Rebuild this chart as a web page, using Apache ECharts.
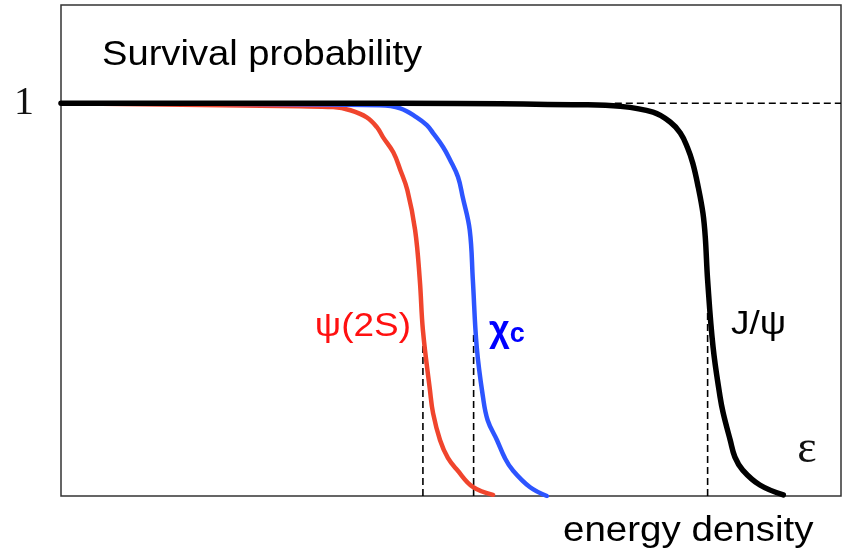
<!DOCTYPE html>
<html>
<head>
<meta charset="utf-8">
<script src="https://cdn.jsdelivr.net/npm/echarts@6/dist/echarts.min.js"></script>
<style>
  html, body { margin: 0; padding: 0; background: #fff; }
  #chart { width: 845px; height: 556px; }
</style>
</head>
<body>
<div id="chart"></div>
<script>
// energy density in arbitrary units (0..100), survival probability 0..1
const psi2sX = [0, 30.6, 34.9, 37.1, 39.2, 40.5, 41.3, 42.6, 43.5, 44.4, 45.4, 46.0, 46.4, 47.3, 47.7, 48.6, 49.6, 50.8, 52.8, 55.4];
const psi2sY = [1, 0.992, 0.99, 0.982, 0.964, 0.939, 0.913, 0.875, 0.830, 0.779, 0.677, 0.550, 0.422, 0.270, 0.211, 0.142, 0.097, 0.066, 0.023, 0.003];

const chicX = [0, 40.9, 43.5, 45.6, 46.9, 47.7, 49.0, 49.9, 50.9, 51.5, 52.4, 52.8, 53.3, 54.1, 54.7, 55.9, 56.9, 57.9, 60.1, 62.3];
const chicY = [1, 0.995, 0.987, 0.964, 0.944, 0.924, 0.888, 0.855, 0.812, 0.761, 0.677, 0.550, 0.379, 0.252, 0.193, 0.142, 0.097, 0.066, 0.023, 0];

const jpsiX = [0, 43.5, 66.5, 71.7, 75.9, 78.1, 79.4, 80.3, 81.0, 81.7, 82.3, 82.6, 82.9, 83.6, 84.5, 84.9, 85.8, 86.4, 87.4, 89.6, 92.6];
const jpsiY = [1, 1, 0.996, 0.992, 0.977, 0.952, 0.924, 0.888, 0.847, 0.786, 0.720, 0.659, 0.550, 0.379, 0.252, 0.211, 0.142, 0.099, 0.066, 0.028, 0.003];

// dissociation thresholds: [energy density, height of dashed marker]
const thresholds = [[46.4, 0.43], [52.9, 0.42], [82.9, 0.47]];
const unityLine = [71, 100];

const pairs = (xs, ys) => xs.map((x, i) => [x, ys[i]]);

const dashed = { color: '#000', width: 1.6, type: [7, 4] };

const curve = (name, xs, ys, color, width) => ({
    name,
    type: 'line',
    showSymbol: false,
    smooth: 0.4,
    lineStyle: { color, width, cap: 'round', join: 'round' },
    data: pairs(xs, ys),
    z: 3,
});

const chart = echarts.init(document.getElementById('chart'), null, { renderer: 'canvas' });

chart.setOption({
    animation: false,
    backgroundColor: '#fff',
    textStyle: { fontFamily: 'Liberation Sans' },
    grid: { left: 61, right: 4, top: 5, bottom: 60, show: true, borderColor: '#333', borderWidth: 1.5 },
    xAxis: {
        type: 'value',
        min: 0,
        max: 100,
        axisLine: { show: false },
        axisTick: { show: false },
        axisLabel: { show: false },
        splitLine: { show: false },
    },
    yAxis: {
        type: 'value',
        min: 0,
        max: 1.25,
        interval: 0.25,
        axisLine: { show: false },
        axisTick: { show: false },
        splitLine: { show: false },
        axisLabel: {
            formatter: (v) => (v === 1 ? '1' : ''),
            fontFamily: 'Liberation Serif',
            fontSize: 40,
            color: '#111',
            margin: 27,
            padding: [0, 0, 6, 0],
        },
    },
    series: [
        ...thresholds.map(([x, h]) => ({
            type: 'line',
            showSymbol: false,
            lineStyle: dashed,
            data: [[x, 0], [x, h]],
            z: 1,
        })),
        {
            type: 'line',
            showSymbol: false,
            lineStyle: dashed,
            data: [[unityLine[0], 1], [unityLine[1], 1]],
            z: 1,
        },
        curve('psi2S', psi2sX, psi2sY, '#f0452d', 4.5),
        curve('chic', chicX, chicY, '#2d55ff', 4.5),
        curve('Jpsi', jpsiX, jpsiY, '#000', 5.5),
    ],
    graphic: [
        {
            type: 'text', x: 102, y: 55, scaleX: 1.09,
            style: { text: 'Survival probability', fontFamily: 'Liberation Sans', fontSize: 35, fill: '#000', verticalAlign: 'middle' },
        },
        {
            type: 'text', x: 563, y: 531, scaleX: 1.1,
            style: { text: 'energy density', fontFamily: 'Liberation Sans', fontSize: 35, fill: '#000', verticalAlign: 'middle' },
        },
        {
            type: 'text', x: 411, y: 327, scaleX: 1.12,
            style: { text: 'ψ(2S)', fontFamily: 'Liberation Sans', fontSize: 33, fill: '#ff1010', align: 'right', verticalAlign: 'middle' },
        },
        {
            type: 'text', x: 489, y: 331,
            style: {
                text: '{a|χ}{b|c}',
                rich: {
                    a: { fontFamily: 'Liberation Sans', fontSize: 36, fontWeight: 'bold', fill: '#0000ff' },
                    b: { fontFamily: 'Liberation Sans', fontSize: 27, fontWeight: 'bold', fill: '#0000ff', padding: [8, 0, 0, 0] },
                },
                verticalAlign: 'middle',
            },
        },
        {
            type: 'text', x: 731, y: 325, scaleX: 1.12,
            style: { text: 'J/ψ', fontFamily: 'Liberation Sans', fontSize: 33, fill: '#000', verticalAlign: 'middle' },
        },
        {
            type: 'text', x: 807, y: 450,
            style: { text: 'ε', fontFamily: 'Liberation Serif', fontSize: 46, fill: '#111', align: 'center', verticalAlign: 'middle' },
        },
    ],
});
</script>
</body>
</html>
